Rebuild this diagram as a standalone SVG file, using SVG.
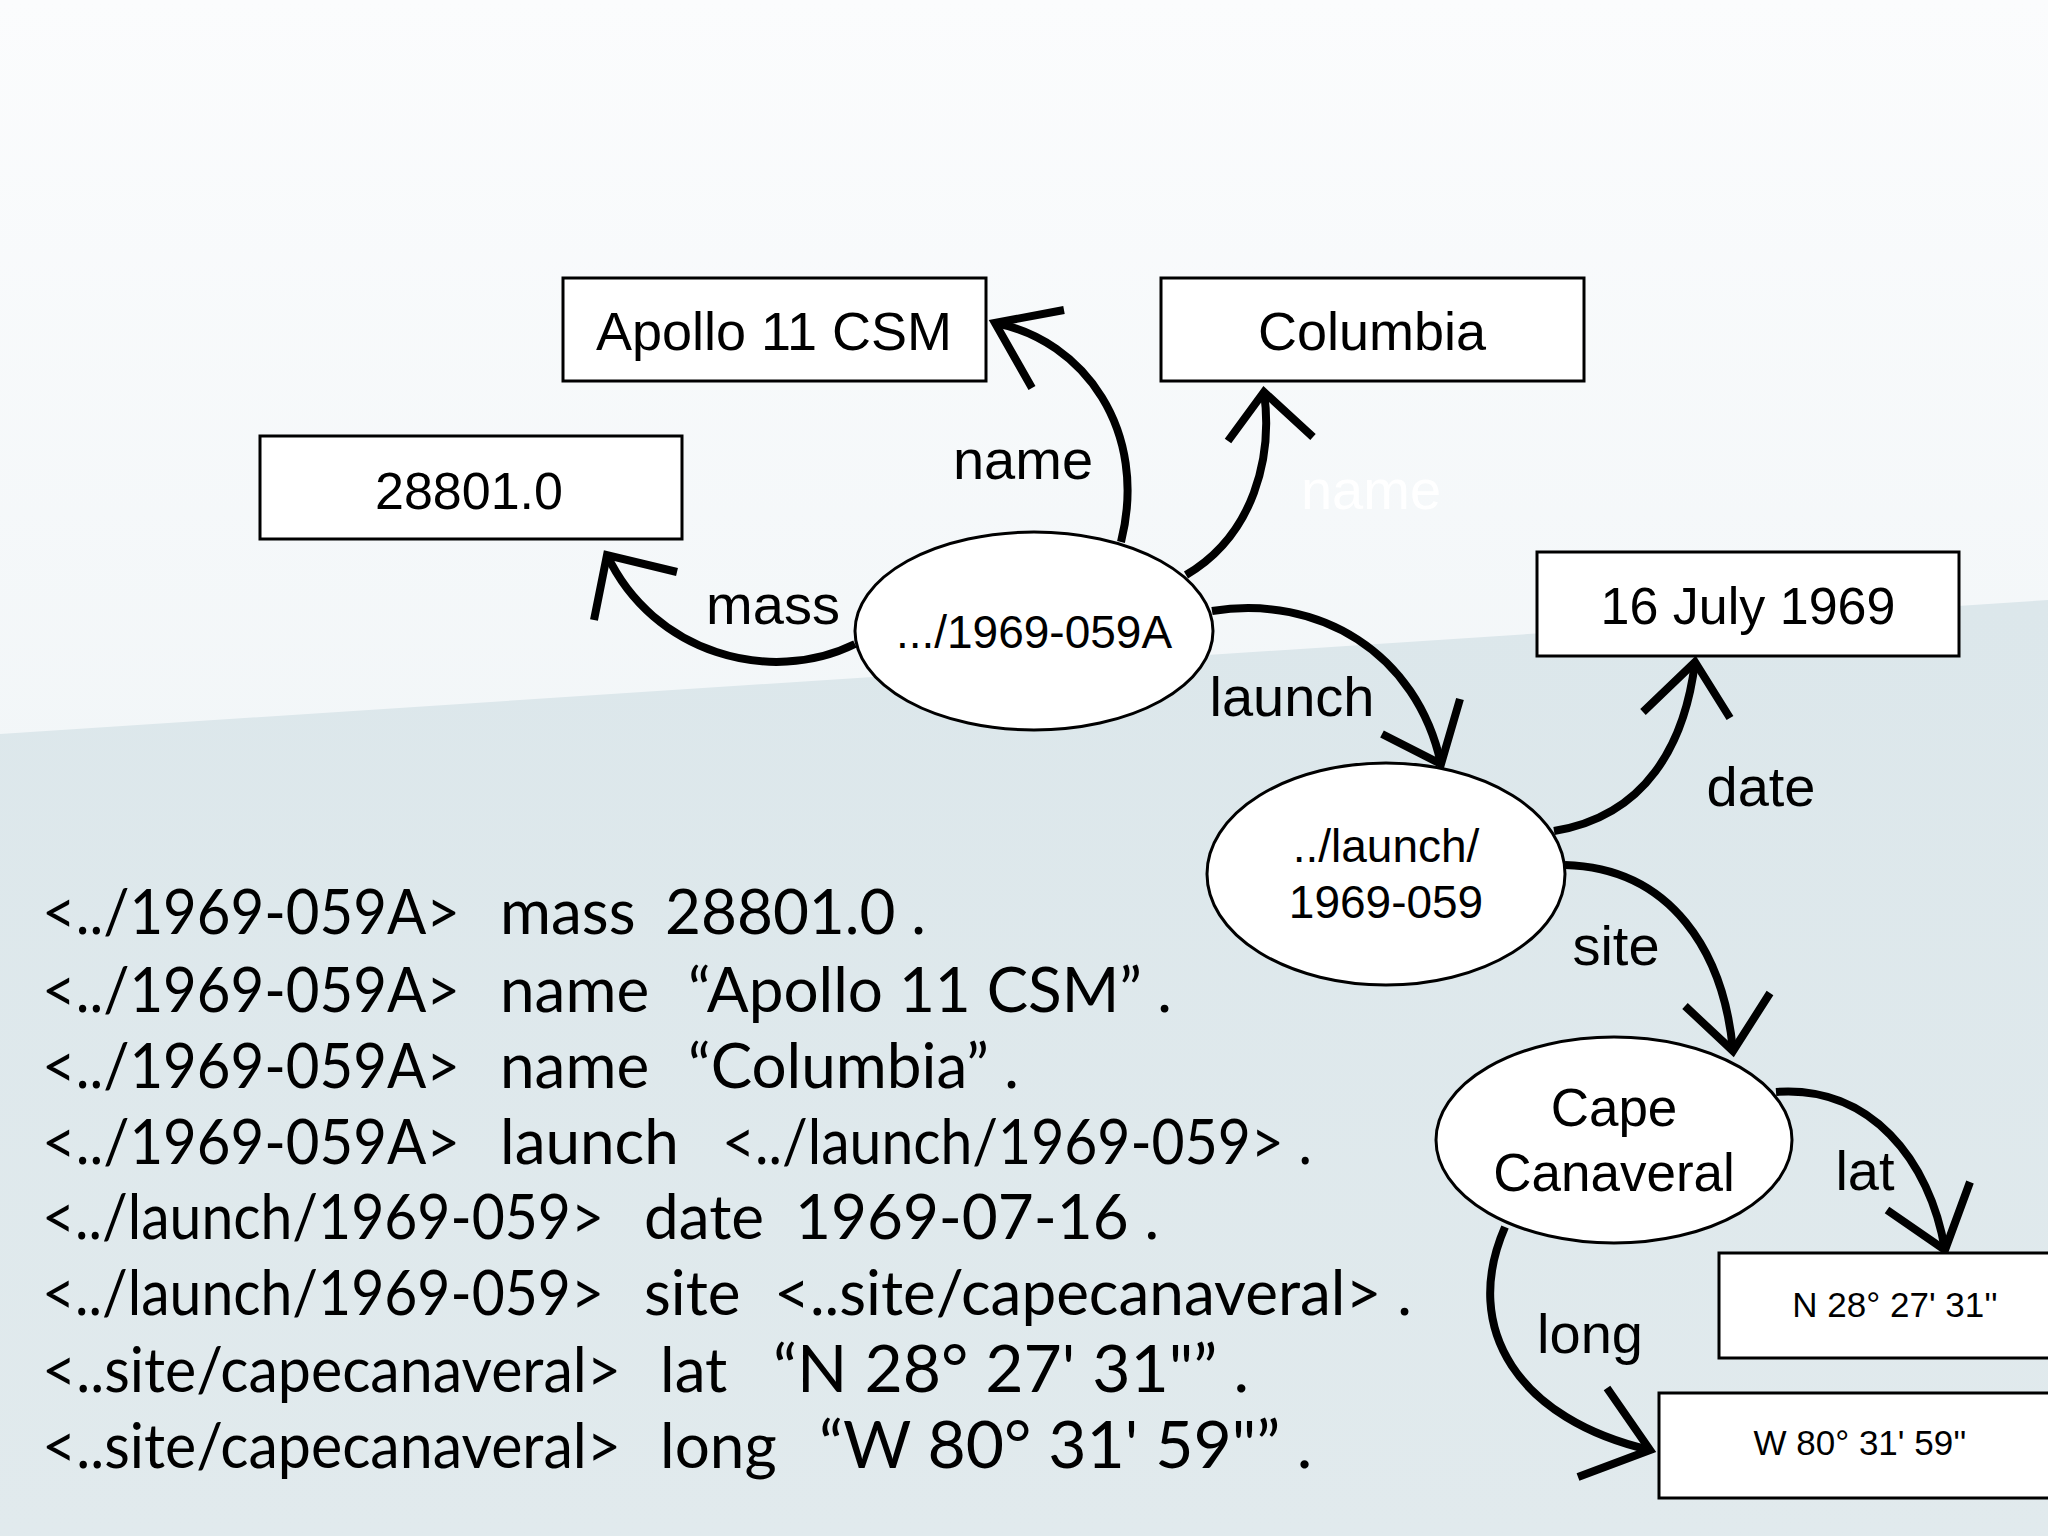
<svg xmlns="http://www.w3.org/2000/svg" width="2048" height="1536" viewBox="0 0 2048 1536">
<defs>
<linearGradient id="bg" x1="0" y1="0" x2="0" y2="1"><stop offset="0" stop-color="#fbfcfd"/><stop offset="1" stop-color="#e9f0f3"/></linearGradient>
<linearGradient id="bg2" x1="0" y1="0" x2="0" y2="1"><stop offset="0" stop-color="#dce7eb"/><stop offset="1" stop-color="#e1eaed"/></linearGradient>
</defs>
<style>
.n{fill:#fff;stroke:#000;stroke-width:3}
.t{font-family:"Liberation Sans",Arial,sans-serif;fill:#000;text-anchor:middle}
.e{fill:none;stroke:#000;stroke-width:8;stroke-linecap:butt}
.l{font-family:"Liberation Sans",Arial,sans-serif;font-size:56px;fill:#000;text-anchor:middle}
.c{font-family:"Lato","Open Sans",sans-serif;font-size:62px;fill:#000}
</style>
<rect width="2048" height="1536" fill="url(#bg)"/>
<polygon points="0,734 2048,600 2048,1536 0,1536" fill="url(#bg2)"/>
<g id="connectors">
<path class="e" d="M855,644 C770,686 653,653 607,555"/><polyline class="e" points="594,620 607,555 677,572"/>
<path class="e" d="M1121,542 C1149,431 1084,340 995,323"/><polyline class="e" points="1032,388 995,323 1064,310"/>
<path class="e" d="M1186,575 C1254,535 1273,457 1264,392"/><polyline class="e" points="1228,441 1264,392 1313,437"/>
<path class="e" d="M1212,611 C1319,594 1417,653 1441,764"/><polyline class="e" points="1382,734 1441,764 1460,699"/>
<path class="e" d="M1554,831 C1646,816 1685,744 1695,662"/><polyline class="e" points="1643,712 1695,662 1730,718"/>
<path class="e" d="M1565,865 C1672,868 1724,953 1733,1051"/><polyline class="e" points="1685,1006 1733,1051 1770,993"/>
<path class="e" d="M1776,1092 C1870,1085 1930,1160 1945,1250"/><polyline class="e" points="1887,1210 1945,1250 1970,1182"/>
<path class="e" d="M1505,1227 C1460,1330 1520,1420 1650,1450"/><polyline class="e" points="1607,1388 1650,1450 1578,1477"/>
<text class="l" x="1023" y="479">name</text>
<text class="l" x="1371" y="509" style="fill:#fff">name</text>
<text class="l" x="773" y="624">mass</text>
<text class="l" x="1292" y="716">launch</text>
<text class="l" x="1761" y="806">date</text>
<text class="l" x="1616" y="965">site</text>
<text class="l" x="1865" y="1190">lat</text>
<text class="l" x="1590" y="1353">long</text>
</g>
<g id="apollo"><rect class="n" x="563" y="278" width="423" height="103"/><text class="t" x="774" y="350" font-size="54">Apollo 11 CSM</text></g>
<g id="columbia"><rect class="n" x="1161" y="278" width="423" height="103"/><text class="t" x="1372" y="350" font-size="54">Columbia</text></g>
<g id="mass"><rect class="n" x="260" y="436" width="422" height="103"/><text class="t" x="469" y="509" font-size="52">28801.0</text></g>
<g id="date"><rect class="n" x="1537" y="552" width="422" height="104"/><text class="t" x="1748" y="624" font-size="52">16 July 1969</text></g>
<g id="lat"><rect class="n" x="1719" y="1253" width="350" height="105"/><text class="t" x="1895" y="1317" font-size="35">N 28° 27' 31''</text></g>
<g id="long"><rect class="n" x="1659" y="1393" width="410" height="105"/><text class="t" x="1860" y="1455" font-size="35">W 80° 31' 59''</text></g>
<g id="craft"><ellipse class="n" cx="1034" cy="631" rx="179" ry="99"/><text class="t" x="1034" y="648" font-size="46">.../1969-059A</text></g>
<g id="launch"><ellipse class="n" cx="1386" cy="874" rx="179" ry="111"/><text class="t" x="1386" y="862" font-size="46">../launch/</text><text class="t" x="1386" y="918" font-size="46">1969-059</text></g>
<g id="cape"><ellipse class="n" cx="1614" cy="1140" rx="178" ry="103"/><text class="t" x="1614" y="1126" font-size="53">Cape</text><text class="t" x="1614" y="1191" font-size="53">Canaveral</text></g>
<g id="triples" class="c">
<text y="934"><tspan x="42" textLength="418" lengthAdjust="spacingAndGlyphs">&lt;../1969-059A&gt;</tspan><tspan x="500">mass</tspan><tspan x="665">28801.0 .</tspan></text>
<text y="1012"><tspan x="42" textLength="418" lengthAdjust="spacingAndGlyphs">&lt;../1969-059A&gt;</tspan><tspan x="500">name</tspan><tspan x="688">“Apollo 11 CSM” .</tspan></text>
<text y="1088"><tspan x="42" textLength="418" lengthAdjust="spacingAndGlyphs">&lt;../1969-059A&gt;</tspan><tspan x="500">name</tspan><tspan x="688">“Columbia” .</tspan></text>
<text y="1164"><tspan x="42" textLength="418" lengthAdjust="spacingAndGlyphs">&lt;../1969-059A&gt;</tspan><tspan x="500">launch</tspan><tspan x="722" textLength="590" lengthAdjust="spacingAndGlyphs">&lt;../launch/1969-059&gt; .</tspan></text>
<text y="1239"><tspan x="42" textLength="562" lengthAdjust="spacingAndGlyphs">&lt;../launch/1969-059&gt;</tspan><tspan x="644">date</tspan><tspan x="795">1969-07-16 .</tspan></text>
<text y="1315"><tspan x="42" textLength="562" lengthAdjust="spacingAndGlyphs">&lt;../launch/1969-059&gt;</tspan><tspan x="644">site</tspan><tspan x="774">&lt;..site/capecanaveral&gt; .</tspan></text>
<text y="1392"><tspan x="42" textLength="579" lengthAdjust="spacingAndGlyphs">&lt;..site/capecanaveral&gt;</tspan><tspan x="660">lat</tspan><tspan x="773" font-size="66">“N 28° 27' 31"” .</tspan></text>
<text y="1468"><tspan x="42" textLength="579" lengthAdjust="spacingAndGlyphs">&lt;..site/capecanaveral&gt;</tspan><tspan x="660">long</tspan><tspan x="819" font-size="66">“W 80° 31' 59"” .</tspan></text>
</g>
</svg>
